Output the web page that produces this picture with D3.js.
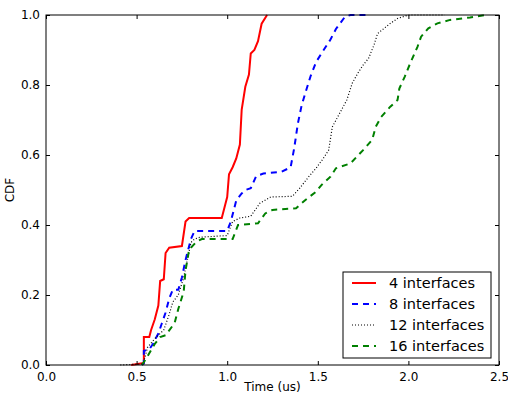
<!DOCTYPE html>
<html>
<head>
<meta charset="utf-8">
<script src="https://cdn.jsdelivr.net/npm/d3@7"></script>
<style>
  body { margin: 0; background: #fff; }
  text { font-family: "DejaVu Sans", sans-serif; fill: #000; }
</style>
</head>
<body>
<script>
// CDF samples: [time (us), cdf]
var red4 = [[0.47,0],[0.53,0.005],[0.54,0.005],[0.54,0.08],[0.57,0.08],[0.58,0.1],[0.6,0.13],[0.62,0.17],
  [0.63,0.24],[0.65,0.245],[0.66,0.32],[0.68,0.335],[0.75,0.34],[0.77,0.41],[0.79,0.42],[0.97,0.42],
  [0.99,0.46],[1.0,0.48],[1.01,0.545],[1.03,0.565],[1.05,0.59],[1.07,0.63],[1.08,0.73],[1.1,0.795],
  [1.12,0.83],[1.13,0.89],[1.15,0.9],[1.17,0.925],[1.19,0.975],[1.22,1.0]];
var blue8 = [[0.53,0],[0.54,0.005],[0.54,0.04],[0.57,0.045],[0.59,0.06],[0.62,0.09],[0.64,0.12],[0.66,0.15],
  [0.68,0.19],[0.7,0.215],[0.73,0.215],[0.75,0.25],[0.77,0.3],[0.8,0.36],[0.82,0.383],[1.0,0.383],
  [1.02,0.41],[1.05,0.47],[1.08,0.49],[1.1,0.5],[1.13,0.505],[1.16,0.54],[1.2,0.547],[1.3,0.552],
  [1.35,0.565],[1.37,0.62],[1.39,0.69],[1.41,0.74],[1.43,0.775],[1.46,0.825],[1.49,0.865],[1.52,0.89],
  [1.57,0.93],[1.6,0.96],[1.65,0.995],[1.68,1.0],[1.78,1.0]];
var black12 = [[0.41,0],[0.53,0.003],[0.54,0.01],[0.56,0.05],[0.6,0.075],[0.65,0.1],[0.68,0.145],[0.7,0.18],
  [0.73,0.2],[0.76,0.25],[0.78,0.3],[0.8,0.35],[0.82,0.36],[0.85,0.365],[1.0,0.37],[1.03,0.41],
  [1.07,0.42],[1.13,0.425],[1.18,0.462],[1.24,0.48],[1.36,0.482],[1.4,0.505],[1.45,0.538],[1.49,0.562],
  [1.53,0.59],[1.56,0.614],[1.58,0.68],[1.61,0.709],[1.66,0.757],[1.69,0.805],[1.72,0.833],[1.75,0.857],
  [1.78,0.876],[1.81,0.914],[1.83,0.947],[1.9,0.976],[1.94,0.99],[2.0,1.0],[2.2,1.0]];
var green16 = [[0.53,0],[0.56,0.025],[0.6,0.06],[0.63,0.08],[0.66,0.085],[0.71,0.12],[0.73,0.16],[0.76,0.21],
  [0.77,0.27],[0.79,0.33],[0.83,0.352],[0.86,0.36],[1.03,0.36],[1.06,0.4],[1.17,0.405],[1.21,0.433],
  [1.25,0.443],[1.38,0.448],[1.43,0.471],[1.49,0.495],[1.52,0.514],[1.57,0.538],[1.6,0.562],[1.68,0.576],
  [1.75,0.614],[1.8,0.643],[1.82,0.681],[1.85,0.709],[1.9,0.738],[1.94,0.757],[1.95,0.79],[1.98,0.824],
  [2.01,0.862],[2.05,0.909],[2.07,0.938],[2.11,0.962],[2.16,0.976],[2.23,0.986],[2.34,0.993],[2.43,1.0]];

var xTicks = [0.0, 0.5, 1.0, 1.5, 2.0, 2.5];
var yTicks = [0.0, 0.2, 0.4, 0.6, 0.8, 1.0];

var series = [
  {label: "4 interfaces", data: red4, color: "#ff0000", width: 2, dash: null},
  {label: "8 interfaces", data: blue8, color: "#0000ff", width: 2, dash: "6,5"},
  {label: "12 interfaces", data: black12, color: "#000000", width: 1.2, dash: "1,2"},
  {label: "16 interfaces", data: green16, color: "#008000", width: 2, dash: "6,5"}
];

var margin = {top: 15, right: 9, bottom: 30, left: 46},
  width = 508 - margin.left - margin.right,
  height = 395 - margin.top - margin.bottom;

var svg = d3.select("body").append("svg")
  .attr("width", 508)
  .attr("height", 395);

var g = svg.append("g")
  .attr("transform", "translate(" + margin.left + "," + margin.top + ")");

var x = d3.scaleLinear().domain([0, 2.5]).range([0, width]);
var y = d3.scaleLinear().domain([0, 1]).range([height, 0]);

var line = d3.line()
  .x(function (d) { return x(d[0]); })
  .y(function (d) { return y(d[1]); });

g.append("clipPath").attr("id", "clip")
  .append("rect").attr("x", -2).attr("y", -2).attr("width", width + 4).attr("height", height + 4);

g.selectAll(".series")
  .data(series)
  .enter().append("path")
  .attr("class", "series")
  .attr("clip-path", "url(#clip)")
  .attr("d", function (d) { return line(d.data); })
  .attr("fill", "none")
  .attr("stroke", function (d) { return d.color; })
  .attr("stroke-width", function (d) { return d.width; })
  .attr("stroke-dasharray", function (d) { return d.dash; });

// axes, ticks pointing inward on all four sides
var fmt = d3.format(".1f");
g.append("g").attr("transform", "translate(0," + height + ")")
  .call(d3.axisBottom(x).tickValues(xTicks).tickFormat(fmt).tickSizeInner(-4).tickSizeOuter(0).tickPadding(7));
g.append("g")
  .call(d3.axisLeft(y).tickValues(yTicks).tickFormat(fmt).tickSizeInner(-4).tickSizeOuter(0).tickPadding(6));
g.append("g")
  .call(d3.axisTop(x).tickValues(xTicks).tickFormat("").tickSizeInner(-4).tickSizeOuter(0));
g.append("g").attr("transform", "translate(" + width + ",0)")
  .call(d3.axisRight(y).tickValues(yTicks).tickFormat("").tickSizeInner(-4).tickSizeOuter(0));

g.selectAll(".domain").remove();
g.selectAll(".tick text").style("font-size", "12px").style("font-family", "DejaVu Sans");
g.append("rect")
  .attr("width", width).attr("height", height)
  .attr("fill", "none").attr("stroke", "#000").attr("stroke-width", 1);

// axis labels
g.append("text")
  .attr("x", width / 2).attr("y", height + 26)
  .attr("text-anchor", "middle")
  .style("font-size", "12px")
  .text("Time (us)");
g.append("text")
  .attr("transform", "translate(" + (-32) + "," + (height / 2) + ") rotate(-90)")
  .attr("text-anchor", "middle")
  .style("font-size", "12px")
  .text("CDF");

// legend
var lx = 297, ly = 257, lw = 148, lh = 86;
var legend = g.append("g").attr("transform", "translate(" + lx + "," + ly + ")");
legend.append("rect")
  .attr("width", lw).attr("height", lh)
  .attr("fill", "#fff").attr("stroke", "#000").attr("stroke-width", 1);
var item = legend.selectAll(".item")
  .data(series)
  .enter().append("g")
  .attr("transform", function (d, i) { return "translate(0," + (11 + i * 21) + ")"; });
item.append("line")
  .attr("x1", 9).attr("x2", 33)
  .attr("stroke", function (d) { return d.color; })
  .attr("stroke-width", function (d) { return d.width; })
  .attr("stroke-dasharray", function (d) { return d.dash; });
item.append("text")
  .attr("x", 46).attr("dy", "0.35em")
  .style("font-size", "14.5px")
  .text(function (d) { return d.label; });
</script>
</body>
</html>
